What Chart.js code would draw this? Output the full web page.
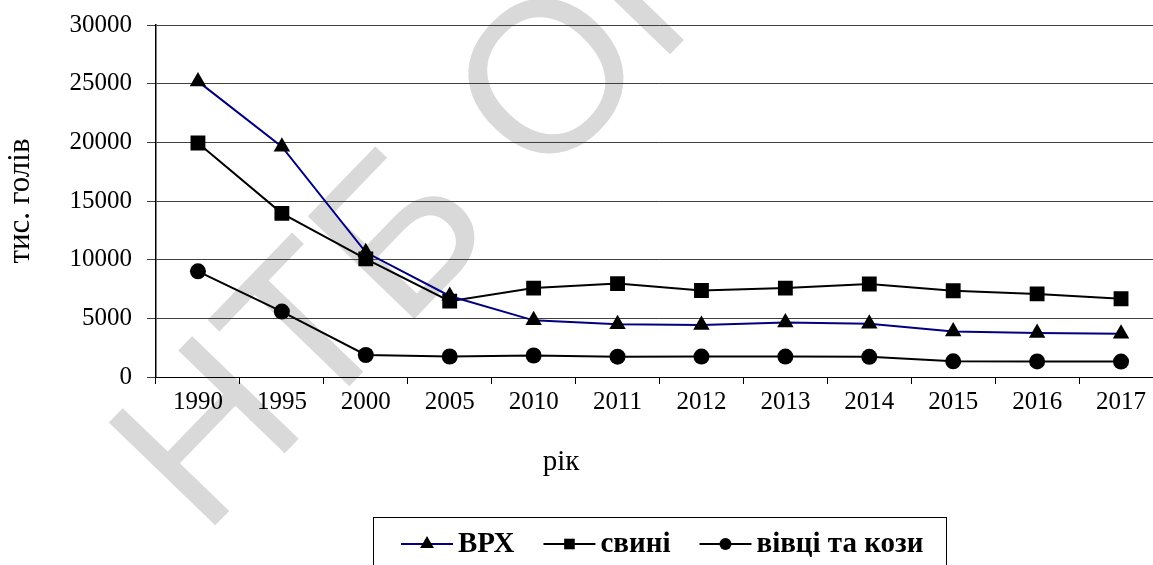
<!DOCTYPE html>
<html>
<head>
<meta charset="utf-8">
<script src="https://cdn.jsdelivr.net/npm/chart.js@4.4.0/dist/chart.umd.min.js"></script>
<style>
  html, body { margin: 0; padding: 0; background: #fff; overflow: hidden; }
  #wrap { width: 1180px; height: 565px; }
</style>
</head>
<body>
<div id="wrap"><canvas id="chart-herd" width="1180" height="565"></canvas></div>
<script>
// ── Data ──────────────────────────────────────────────────────────────────────

const years = ['1990', '1995', '2000', '2005', '2010', '2011', '2012', '2013', '2014', '2015', '2016', '2017'];
const cattle = [25195, 19624, 10627, 6903, 4827, 4494, 4425, 4646, 4534, 3884, 3750, 3682];
const pigs = [19947, 13946, 10073, 6466, 7577, 7960, 7373, 7577, 7922, 7351, 7079, 6669];
const sheepGoats = [9004, 5575, 1875, 1749, 1833, 1730, 1739, 1738, 1723, 1334, 1325, 1314];

const seriesNames = ['ВРХ', 'свині', 'вівці та кози'];
const yTicks = [0, 5000, 10000, 15000, 20000, 25000, 30000];
const xTitle = 'рік';
const yTitle = 'тис. голів';

const SERIF = '"Liberation Serif", "Times New Roman", serif';

// ── Watermark behind the plot ─────────────────────────────────────────────────

const watermark = {
  id: 'watermark',
  beforeDraw(chart) {
    const { ctx } = chart;
    ctx.save();
    ctx.translate(203, 538);
    ctx.rotate(-46 * Math.PI / 180);
    ctx.font = '215px "Liberation Sans", Arial, sans-serif';
    ctx.fillStyle = '#d9d9d9';
    ctx.textBaseline = 'alphabetic';
    ctx.fillText('НТБ ОНАХТ', 0, 0);
    ctx.restore();
  },
};

// ── "рік" sits left of the plot centre in the original, so draw it here ──────

const xAxisTitle = {
  id: 'xAxisTitle',
  afterDraw(chart) {
    const { ctx } = chart;
    ctx.save();
    ctx.font = '29px ' + SERIF;
    ctx.fillStyle = '#000';
    ctx.textAlign = 'center';
    ctx.textBaseline = 'middle';
    ctx.fillText(xTitle, 561, 462);
    ctx.restore();
  },
};

// ── Boxed legend: line + marker + bold label ─────────────────────────────────

const lineLegend = {
  id: 'lineLegend',
  afterDraw(chart) {
    const { ctx } = chart;
    const y = 544;
    const markerSize = { triangle: 8, rect: 7.5, circle: 6 };
    ctx.save();
    ctx.strokeStyle = '#000';
    ctx.lineWidth = 1;
    ctx.strokeRect(373.5, 517.5, 573, 60);
    ctx.font = 'bold 29px ' + SERIF;
    ctx.textBaseline = 'middle';
    let x = 401;
    chart.data.datasets.forEach(ds => {
      ctx.strokeStyle = ds.borderColor;
      ctx.lineWidth = 2;
      ctx.beginPath();
      ctx.moveTo(x, y);
      ctx.lineTo(x + 52, y);
      ctx.stroke();
      ctx.fillStyle = '#000';
      Chart.helpers.drawPoint(ctx, {
        pointStyle: ds.pointStyle,
        radius: markerSize[ds.pointStyle],
        rotation: 0,
        borderWidth: 0,
      }, x + 26, y);
      ctx.fillStyle = '#000';
      ctx.fillText(ds.label, x + 57, y + 1);
      x += 57 + ctx.measureText(ds.label).width + 29;
    });
    ctx.restore();
  },
};

// ── Chart ─────────────────────────────────────────────────────────────────────

const line = (label, data, color, style, radius) => ({
  label,
  data,
  borderColor: color,
  borderWidth: 2,
  pointStyle: style,
  pointRadius: radius,
  pointHoverRadius: radius,
  pointBackgroundColor: '#000',
  pointBorderColor: '#000',
  pointBorderWidth: 0,
  tension: 0,
  fill: false,
});

new Chart(document.getElementById('chart-herd'), {
  type: 'line',
  data: {
    labels: years,
    datasets: [
      line(seriesNames[0], cattle, '#000080', 'triangle', 9.5),
      line(seriesNames[1], pigs, '#000', 'rect', 10.5),
      line(seriesNames[2], sheepGoats, '#000', 'circle', 8),
    ],
  },
  options: {
    responsive: false,
    animation: false,
    layout: { padding: { top: 25, right: 17, bottom: 81, left: 0 } },
    plugins: {
      legend: { display: false },
      tooltip: { enabled: false },
    },
    scales: {
      x: {
        offset: true,
        grid: {
          offset: true,
          drawOnChartArea: false,
          drawTicks: true,
          tickLength: 7,
          color: '#000',
        },
        border: { color: '#000', width: 1 },
        ticks: {
          font: { family: SERIF, size: 25 },
          color: '#000',
          padding: 3,
          maxRotation: 0,
          autoSkip: false,
        },
        title: { display: false },
        afterFit: s => { s.height = 107; },
      },
      y: {
        min: 0,
        max: 30000,
        afterBuildTicks: s => { s.ticks = yTicks.map(v => ({ value: v })); },
        grid: { color: '#404040', lineWidth: 1, tickLength: 9 },
        border: { color: '#000', width: 1.5 },
        ticks: {
          font: { family: SERIF, size: 25 },
          color: '#000',
          padding: 15,
          callback: v => String(v),
        },
        title: {
          display: true,
          text: yTitle,
          font: { family: SERIF, size: 31 },
          color: '#000',
          padding: { top: 2, bottom: 2 },
        },
        afterFit: s => {
          s.width = 156;
          s.paddingTop = 12;
        },
      },
    },
  },
  plugins: [watermark, xAxisTitle, lineLegend],
});
</script>
</body>
</html>
